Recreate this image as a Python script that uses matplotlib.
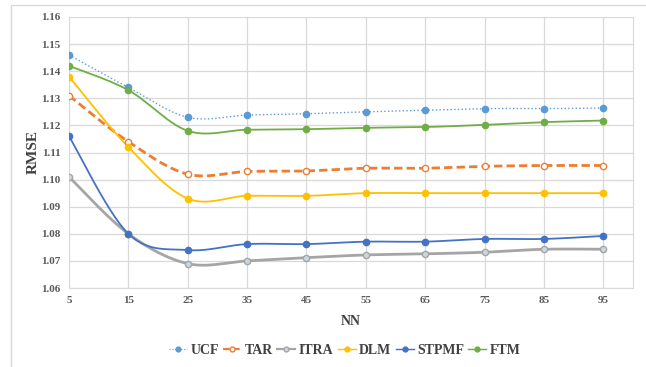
import numpy as np
import matplotlib
matplotlib.use("Agg")
import matplotlib.pyplot as plt
from matplotlib.patches import Rectangle
from matplotlib.lines import Line2D

nn = [5, 15, 25, 35, 45, 55, 65, 75, 85, 95]
ucf = [1.146, 1.134, 1.123, 1.1238, 1.1243, 1.125, 1.1256, 1.1262, 1.1262, 1.1264]
tar = [1.131, 1.114, 1.102, 1.103, 1.1032, 1.1042, 1.1042, 1.1049, 1.1052, 1.1052]
itra = [1.101, 1.080, 1.069, 1.070, 1.0712, 1.0722, 1.0726, 1.0732, 1.0743, 1.0743]
dlm = [1.138, 1.112, 1.093, 1.094, 1.094, 1.095, 1.095, 1.095, 1.095, 1.095]
stpmf = [1.116, 1.080, 1.074, 1.0762, 1.0762, 1.0771, 1.0771, 1.0781, 1.0781, 1.0792]
ftm = [1.142, 1.133, 1.118, 1.1184, 1.1186, 1.1191, 1.1194, 1.1202, 1.1212, 1.1218]
names = ["UCF", "TAR", "ITRA", "DLM", "STPMF", "FTM"]

plt.rcParams['font.family'] = ['Liberation Serif', 'DejaVu Serif']


def smooth(x, y, n=30):
    x = np.asarray(x, float); y = np.asarray(y, float)
    sx = 1.0 / (x.max() - x.min()); sy = 1.0 / 0.1 * (271 / 564)
    P = np.column_stack([x * sx, y * sy])
    P = np.vstack([P[0], P, P[-1]])
    out = []
    for i in range(1, len(P) - 2):
        p0, p1, p2, p3 = P[i - 1], P[i], P[i + 1], P[i + 2]
        c1 = p1 + (p2 - p0) / 6
        c2 = p2 - (p3 - p1) / 6
        t = np.linspace(0, 1, n)[:, None]
        b = (1 - t) ** 3 * p1 + 3 * (1 - t) ** 2 * t * c1 + 3 * (1 - t) * t ** 2 * c2 + t ** 3 * p2
        out.append(b if i == 1 else b[1:])
    B = np.vstack(out)
    return B[:, 0] / sx, B[:, 1] / sy


fig = plt.figure(figsize=(6.46, 3.67), dpi=100)
fig.patches.append(Rectangle((11 / 646, -0.05), 1.1, 1 - 5 / 367 + 0.05, transform=fig.transFigure,
                             fill=False, edgecolor='#D9D9D9', linewidth=1.0))
ax = fig.add_axes([69 / 646, 1 - 288 / 367, (633 - 69) / 646, (288 - 17) / 367])

styles = [
    dict(data=ucf, color='#5B9BD5', ls=':', lw=1.0, mfc='#5B9BD5', mec='#5B9BD5'),
    dict(data=tar, color='#ED7D31', ls=(0, (3, 1.5)), lw=2.0, mfc='white', mec='#ED7D31'),
    dict(data=itra, color='#A5A5A5', ls='-', lw=2.0, mfc='#C9D6E3', mec='#A5A5A5'),
    dict(data=dlm, color='#FFC000', ls='-', lw=1.3, mfc='#FFC000', mec='#FFC000'),
    dict(data=stpmf, color='#4472C4', ls='-', lw=1.3, mfc='#4472C4', mec='#4472C4'),
    dict(data=ftm, color='#70AD47', ls='-', lw=1.3, mfc='#70AD47', mec='#70AD47'),
]
handles = []
for name, s in zip(names, styles):
    xs, ys = smooth(nn, s['data'])
    ax.plot(xs, ys, color=s['color'], ls=s['ls'], lw=s['lw'], zorder=3)
    ax.plot(nn, s['data'], ls='none', marker='o', ms=4.5, mfc=s['mfc'], mec=s['mec'], mew=1.0, zorder=4)
    handles.append(Line2D([], [], color=s['color'], ls=s['ls'], lw=s['lw'] * 0.8, marker='o', ms=3.5,
                          mfc=s['mfc'], mec=s['mec']))

ax.set_xlim(5, 100)
ax.set_ylim(1.06, 1.16)
ax.set_xticks(nn)
ax.set_yticks(np.arange(1.06, 1.1601, 0.01))
ax.set_yticklabels([f"{v:.2f}" for v in np.arange(1.06, 1.1601, 0.01)])
ax.grid(True, color='#D9D9D9', lw=0.9)
ax.set_axisbelow(True)
for sp in ['top', 'left']:
    ax.spines[sp].set_visible(False)
ax.spines['right'].set_color('#D9D9D9')
ax.spines['bottom'].set_color('#D9D9D9')
ax.tick_params(length=0, labelsize=8, colors='#595959', pad=6)
for lab in ax.get_xticklabels() + ax.get_yticklabels():
    lab.set_fontweight('bold')
ax.set_ylabel('RMSE', fontsize=11, fontweight='bold', color='#404040', labelpad=1)
ax.set_xlabel('NN', fontsize=10, fontweight='bold', color='#404040', labelpad=7)

fig.legend(handles, names, loc='center', bbox_to_anchor=(345 / 646, 1 - 350 / 367), ncol=6,
           frameon=False, prop={'weight': 'bold', 'size': 10}, handlelength=1.3,
           handletextpad=0.25, columnspacing=0.3, labelcolor='#404040')

fig.savefig('out.png', dpi=100)
